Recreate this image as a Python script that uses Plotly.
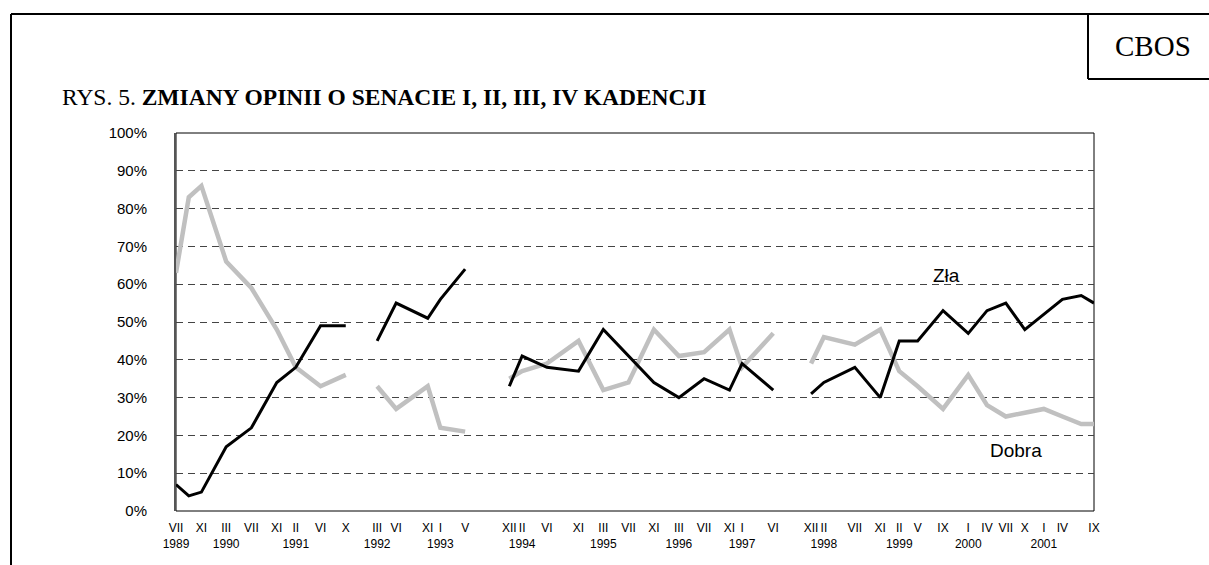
"""
Zmiany opinii o Senacie I, II, III, IV kadencji (CBOS, rys. 5).
"""

import plotly.graph_objs as go

# survey months and shares (%) for each term of the Senate
kadencja_i_months = ["1989-07", "1989-09", "1989-11", "1990-03", "1990-07",
                     "1990-11", "1991-02", "1991-06", "1991-10"]
kadencja_i_zla = [7, 4, 5, 17, 22, 34, 38, 49, 49]
kadencja_i_dobra = [63, 83, 86, 66, 59, 48, 38, 33, 36]

kadencja_ii_months = ["1992-03", "1992-06", "1992-11", "1993-01", "1993-05"]
kadencja_ii_zla = [45, 55, 51, 56, 64]
kadencja_ii_dobra = [33, 27, 33, 22, 21]

kadencja_iii_months = ["1993-12", "1994-02", "1994-06", "1994-11", "1995-03",
                       "1995-07", "1995-11", "1996-03", "1996-07", "1996-11",
                       "1997-01", "1997-06"]
kadencja_iii_zla = [33, 41, 38, 37, 48, 41, 34, 30, 35, 32, 39, 32]
kadencja_iii_dobra = [35, 37, 39, 45, 32, 34, 48, 41, 42, 48, 38, 47]

kadencja_iv_months = ["1997-12", "1998-02", "1998-07", "1998-11", "1999-02",
                      "1999-05", "1999-09", "2000-01", "2000-04", "2000-07",
                      "2000-10", "2001-01", "2001-04", "2001-07", "2001-09"]
kadencja_iv_zla = [31, 34, 38, 30, 45, 45, 53, 47, 53, 55, 48, 52, 56, 57, 55]
kadencja_iv_dobra = [39, 46, 44, 48, 37, 33, 27, 36, 28, 25, 26, 27, 25, 23, 23]

# axis labels: roman month, year under some of them
tick_months = ["1989-07", "1989-11", "1990-03", "1990-07", "1990-11",
               "1991-02", "1991-06", "1991-10", "1992-03", "1992-06",
               "1992-11", "1993-01", "1993-05", "1993-12", "1994-02",
               "1994-06", "1994-11", "1995-03", "1995-07", "1995-11",
               "1996-03", "1996-07", "1996-11", "1997-01", "1997-06",
               "1997-12", "1998-02", "1998-07", "1998-11", "1999-02",
               "1999-05", "1999-09", "2000-01", "2000-04", "2000-07",
               "2000-10", "2001-01", "2001-04", "2001-09"]
tick_labels = ["VII<br>1989", "XI", "III<br>1990", "VII", "XI",
               "II<br>1991", "VI", "X", "III<br>1992", "VI",
               "XI", "I<br>1993", "V", "XII", "II<br>1994",
               "VI", "XI", "III<br>1995", "VII", "XI",
               "III<br>1996", "VII", "XI", "I<br>1997", "VI",
               "XII", "II<br>1998", "VII", "XI", "II<br>1999",
               "V", "IX", "I<br>2000", "IV", "VII",
               "X", "I<br>2001", "IV", "IX"]

W, H = 1209, 565
L, R, T, B = 176, 1094, 133, 511  # plot area in pixels


def px(x):
    return (x - L) / (R - L)


def py(y):
    return (B - y) / (B - T)


def join_terms(parts):
    """Concatenate the terms with a None break between them."""
    out = []
    for i, p in enumerate(parts):
        if i:
            out.append(None)
        out.extend(p)
    return out


months = join_terms([kadencja_i_months, kadencja_ii_months,
                     kadencja_iii_months, kadencja_iv_months])
zla = join_terms([kadencja_i_zla, kadencja_ii_zla,
                  kadencja_iii_zla, kadencja_iv_zla])
dobra = join_terms([kadencja_i_dobra, kadencja_ii_dobra,
                    kadencja_iii_dobra, kadencja_iv_dobra])

fig = go.Figure()

fig.add_trace(
    go.Scatter(
        x=months, y=dobra, name="Dobra", mode="lines",
        line=dict(color="#c0c0c0", width=4.5), connectgaps=False,
    )
)
fig.add_trace(
    go.Scatter(
        x=months, y=zla, name="Zła", mode="lines",
        line=dict(color="#000000", width=3), connectgaps=False,
    )
)

fig.update_xaxes(
    type="date",
    range=[kadencja_i_months[0], kadencja_iv_months[-1]],
    tickmode="array",
    tickvals=tick_months,
    ticktext=tick_labels,
    tickangle=0,
    ticks="",
    showgrid=False,
    showline=False,
    zeroline=False,
    ticklabelstandoff=8,
    tickfont=dict(family="Liberation Sans, Arial", size=12, color="#000"),
)
fig.update_yaxes(
    range=[0, 100],
    tick0=0,
    dtick=10,
    ticksuffix="%",
    showgrid=True,
    gridcolor="#444444",
    gridwidth=1,
    griddash="7px,5px",
    zeroline=False,
    showline=True,
    linecolor="#555555",
    linewidth=2,
    ticks="",
    ticklabelstandoff=24,
    tickfont=dict(family="Liberation Sans, Arial", size=15, color="#000"),
)

shapes = [
    # plot area border
    dict(type="rect", xref="paper", yref="paper", x0=0, x1=1, y0=0, y1=1,
         line=dict(color="#000", width=1), layer="below"),
    # page frame
    dict(type="line", xref="paper", yref="paper",
         x0=px(11), x1=px(W + 10), y0=py(14), y1=py(14),
         line=dict(color="#000", width=2)),
    dict(type="line", xref="paper", yref="paper",
         x0=px(11), x1=px(11), y0=py(14), y1=py(H + 10),
         line=dict(color="#000", width=2)),
    # CBOS box
    dict(type="line", xref="paper", yref="paper",
         x0=px(1088), x1=px(1088), y0=py(14), y1=py(79),
         line=dict(color="#000", width=2)),
    dict(type="line", xref="paper", yref="paper",
         x0=px(1088), x1=px(W + 10), y0=py(79), y1=py(79),
         line=dict(color="#000", width=2)),
]

annotations = [
    dict(text="CBOS", xref="paper", yref="paper", x=px(1153), y=py(46),
         xanchor="center", yanchor="middle", showarrow=False,
         font=dict(family="Liberation Serif, Times New Roman", size=29,
                   color="#000")),
    dict(text="RYS. 5. <b>ZMIANY OPINII O SENACIE I, II, III, IV KADENCJI</b>",
         xref="paper", yref="paper", x=px(60), y=py(97),
         xanchor="left", yanchor="middle", showarrow=False,
         font=dict(family="Liberation Serif, Times New Roman", size=23.5,
                   color="#000")),
    dict(text="Zła", xref="paper", yref="paper", x=px(946), y=py(275),
         xanchor="center", yanchor="middle", showarrow=False,
         font=dict(family="Liberation Sans, Arial", size=19, color="#000")),
    dict(text="Dobra", xref="paper", yref="paper", x=px(1016), y=py(450),
         xanchor="center", yanchor="middle", showarrow=False,
         font=dict(family="Liberation Sans, Arial", size=19, color="#000")),
]

fig.update_layout(
    width=W,
    height=H,
    margin=dict(l=L, r=W - R, t=T, b=H - B, pad=0),
    paper_bgcolor="#ffffff",
    plot_bgcolor="#ffffff",
    showlegend=False,
    shapes=shapes,
    annotations=annotations,
)

# drop the default page margin so the figure sits at the window corner
fig.write_html(
    "out.html",
    config={"displayModeBar": False},
    post_script="document.body.style.margin = '0';"
    "document.body.style.overflow = 'hidden';",
)
